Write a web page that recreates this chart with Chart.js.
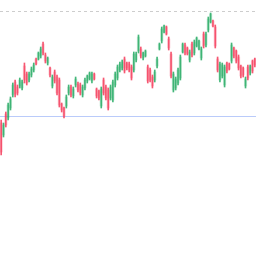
<!DOCTYPE html>
<html>
<head>
<meta charset="utf-8">
<script src="https://cdn.jsdelivr.net/npm/chart.js@4/dist/chart.umd.min.js"></script>
<style>
html,body{margin:0;padding:0;background:#fff;}
#wrap{width:256px;height:256px;}
</style>
</head>
<body>
<div id="wrap"><canvas id="c" width="256" height="256"></canvas></div>
<script>
const opens  = [133,121,142,138,148,161,174,169,170,168,190,182,176,181,186,197,197,200,212,201,193,188,170,184,179,176,152,148,150,163,169,160,171,172,171,161,168,175,177,175,182,167,165,150,176,169,166,158,156,171,178,186,188,197,193,192,189,186,196,205,207,198,200,189,186,179,176,190,207,215,224,229,217,202,166,168,173,178,204,211,208,196,212,203,210,207,198,222,211,226,234,235,229,197,176,180,171,193,192,195,208,205,199,190,188,170,189,183,195,197];
const highs  = [136,133,144,153,159,173,176,171,178,176,193,184,184,189,193,198,204,209,214,203,199,189,181,186,181,178,153,149,161,171,171,169,179,174,173,171,178,181,184,184,183,168,166,169,178,171,168,171,176,184,191,194,196,199,194,194,191,204,204,221,209,204,206,191,188,181,186,199,213,229,231,230,219,204,184,179,188,201,213,213,209,206,214,216,219,216,209,224,224,239,243,236,231,199,194,193,191,194,193,213,209,206,201,191,189,179,191,191,196,198];
const lows   = [101,119,129,136,146,159,159,161,168,166,173,171,174,179,184,191,196,198,201,193,191,179,168,173,161,149,144,138,148,161,159,158,169,164,161,159,166,173,176,173,176,158,156,148,161,156,146,156,154,169,176,184,186,183,186,184,176,184,194,203,198,196,199,173,174,168,174,188,206,213,223,221,206,178,164,166,171,176,203,201,201,194,199,201,209,206,196,208,209,224,233,229,208,184,174,178,169,183,186,193,198,193,186,178,179,168,176,181,183,189];
const closes = [104,131,131,151,157,171,162,163,176,174,176,173,182,187,191,192,203,207,203,195,198,181,179,175,163,151,146,140,159,169,161,167,177,166,163,169,176,180,183,182,177,160,158,167,163,158,148,169,174,182,189,192,194,185,188,186,178,202,202,219,200,203,205,175,176,170,184,197,212,227,230,222,208,180,182,177,186,199,212,203,202,204,201,214,218,215,207,210,222,237,242,230,210,186,192,191,189,185,187,211,200,195,188,180,181,177,178,190,185,191];
const refLevel = 140;
const maxLevel = 245;
const labels = opens.map((_, i) => 'D' + (i + 1));

const upColor = 'rgba(38,170,100,0.85)';
const downColor = 'rgba(245,60,90,0.85)';
const upBody = 'rgba(38,170,100,0.25)';
const downBody = 'rgba(245,60,90,0.25)';
const isUp = opens.map((o, i) => closes[i] >= o);

const refLines = {
  id: 'refLines',
  beforeDatasetsDraw(chart) {
    const {ctx, chartArea, scales} = chart;
    const y1 = Math.round(scales.y.getPixelForValue(maxLevel)) + 0.5;
    const y2 = Math.round(scales.y.getPixelForValue(refLevel)) + 0.5;
    ctx.save();
    ctx.lineWidth = 1;
    ctx.strokeStyle = 'rgba(205,205,205,1)';
    ctx.setLineDash([3, 3]);
    ctx.beginPath(); ctx.moveTo(chartArea.left, y1); ctx.lineTo(chartArea.right, y1); ctx.stroke();
    ctx.setLineDash([]);
    ctx.strokeStyle = 'rgba(130,160,245,0.55)';
    ctx.beginPath(); ctx.moveTo(chartArea.left, y2); ctx.lineTo(chartArea.right, y2); ctx.stroke();
    ctx.restore();
  }
};

new Chart(document.getElementById('c'), {
  type: 'bar',
  data: {
    labels,
    datasets: [
      {
        data: lows.map((l, i) => [l, highs[i]]),
        backgroundColor: isUp.map(u => u ? upColor : downColor),
        barThickness: 1,
        grouped: false,
        borderWidth: 0,
        borderSkipped: false,
        order: 1
      },
      {
        data: opens.map((o, i) => [o, closes[i]]),
        backgroundColor: isUp.map(u => u ? upBody : downBody),
        barThickness: 2.5,
        grouped: false,
        borderWidth: 0,
        borderSkipped: false,
        order: 2
      }
    ]
  },
  options: {
    responsive: false,
    animation: false,
    layout: { padding: 0 },
    plugins: { legend: { display: false }, tooltip: { enabled: false } },
    scales: {
      x: { display: false, offset: true, grid: { display: false } },
      y: { display: false, min: 0, max: 256, grid: { display: false } }
    }
  },
  plugins: [refLines]
});
</script>
</body>
</html>
